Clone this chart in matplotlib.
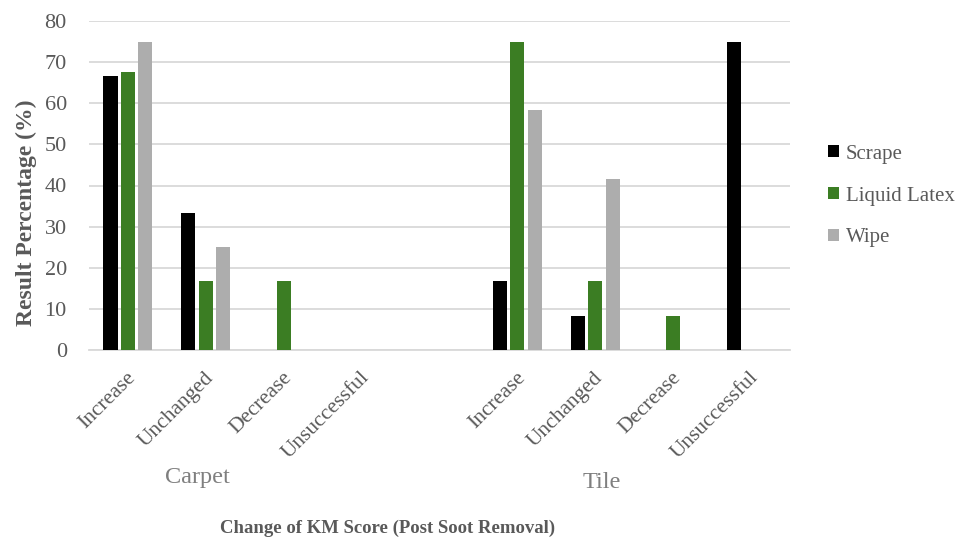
import numpy as np
import matplotlib
matplotlib.use("Agg")
import matplotlib.pyplot as plt
import matplotlib.transforms as mtransforms
from matplotlib.patches import Patch

# Category layout: two surfaces, each with four outcomes, and an empty slot between them
outcomes = ["Increase", "Unchanged", "Decrease", "Unsuccessful"]
surfaces = ["Carpet", "Tile"]
methods = ["Scrape", "Liquid Latex", "Wipe"]

carpet_scrape = [66.7, 33.3, 0, 0]
carpet_latex = [67.5, 16.7, 16.7, 0]
carpet_wipe = [75.0, 25.0, 0, 0]

tile_scrape = [16.7, 8.3, 0, 75.0]
tile_latex = [75.0, 16.7, 8.3, 0]
tile_wipe = [58.3, 41.7, 0, 0]

colors = ["#000000", "#3B7D23", "#ADADAD"]
TICK_GREY = "#595959"
LABEL_GREY = "#595959"

plt.rcParams["font.family"] = ["Liberation Serif", "DejaVu Serif"]

fig = plt.figure(figsize=(9.56, 5.45), dpi=100)
ax = fig.add_axes([89 / 956, 1 - 350 / 545, (790 - 89) / 956, (350 - 21) / 545])

carpet_x = np.arange(4)
tile_x = np.arange(4) + 5
series = [
    (carpet_scrape, tile_scrape),
    (carpet_latex, tile_latex),
    (carpet_wipe, tile_wipe),
]

bar_w = 0.18
step = 0.224
for i, (c_vals, t_vals) in enumerate(series):
    off = (i - 1) * step
    ax.bar(carpet_x + off, c_vals, width=bar_w, color=colors[i], zorder=3)
    ax.bar(tile_x + off, t_vals, width=bar_w, color=colors[i], zorder=3)

ax.set_xlim(-0.5, 8.5)
ax.set_ylim(0, 80)
ax.set_yticks(np.arange(0, 81, 10))
ax.grid(axis="y", color="#D9D9D9", linewidth=1.3, zorder=0)
ax.set_axisbelow(True)
for s in ["top", "right", "left"]:
    ax.spines[s].set_visible(False)
ax.spines["bottom"].set_color("#D9D9D9")
ax.spines["bottom"].set_linewidth(1.3)
ax.tick_params(axis="y", length=0, labelsize=16, labelcolor=TICK_GREY, pad=16)
ax.tick_params(axis="x", length=0, labelsize=15.5, labelcolor=TICK_GREY, pad=18)

ax.set_xticks(list(carpet_x) + list(tile_x))
ax.set_xticklabels(outcomes + outcomes, rotation=45, ha="right",
                   rotation_mode="anchor", va="center")
# nudge the slanted labels a little to the right of each tick
shift = mtransforms.ScaledTranslation(5 / 100, 0, fig.dpi_scale_trans)
for lbl in ax.get_xticklabels():
    lbl.set_transform(lbl.get_transform() + shift)

# surface group labels under the outcome ticks
fig.text(197 / 956, 1 - 478 / 545, surfaces[0], ha="center", va="center",
         fontsize=17.5, color="#7F7F7F")
fig.text(602 / 956, 1 - 482 / 545, surfaces[1], ha="center", va="center",
         fontsize=17.5, color="#7F7F7F")

fig.text(26 / 956, 1 - 213 / 545, "Result Percentage (%)", rotation=90,
         ha="center", va="center", fontsize=17, fontweight="bold", color=LABEL_GREY)
fig.text(388 / 956, 1 - 528 / 545, "Change of KM Score (Post Soot Removal)",
         ha="center", va="center", fontsize=13.5, fontweight="bold", color=LABEL_GREY)

handles = [Patch(facecolor=c, edgecolor="none") for c in colors]
leg = fig.legend(handles, methods, loc="center left",
                 bbox_to_anchor=(828 / 956, 1 - 196 / 545), frameon=False,
                 borderaxespad=0, borderpad=0,
                 handlelength=0.55, handleheight=0.55, handletextpad=0.3,
                 labelspacing=1.1, fontsize=15)
for t in leg.get_texts():
    t.set_color(TICK_GREY)

fig.savefig("out.png", dpi=100)
